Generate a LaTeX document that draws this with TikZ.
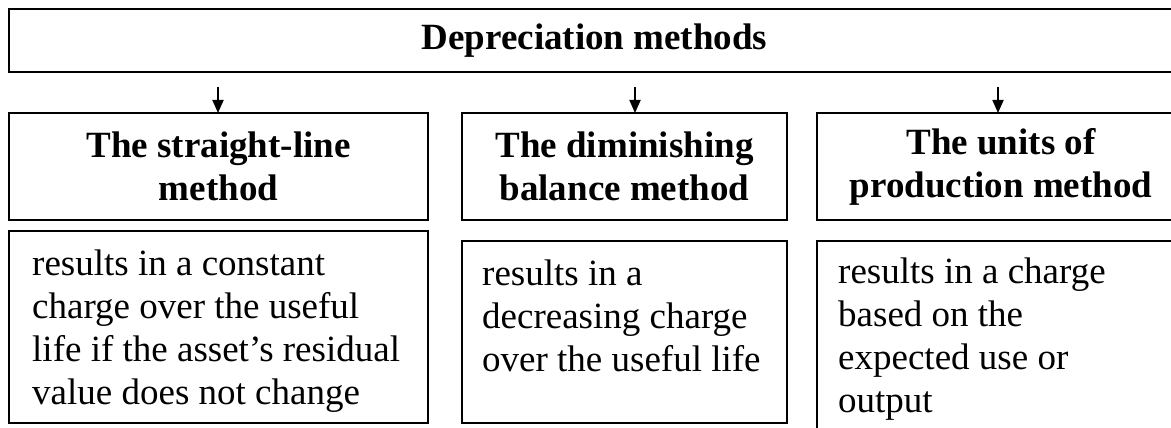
\documentclass[tikz,border=0pt]{standalone}
\usepackage{fontspec}
\setmainfont{Liberation Serif}
\usetikzlibrary{arrows.meta}
\begin{document}
\begin{tikzpicture}[x=1pt,y=-1pt,
  frame/.style={draw, line width=1.8pt, rectangle, inner sep=0pt, outer sep=0pt, anchor=north west},
  title/.style={font=\fontsize{37}{43}\selectfont\bfseries, align=center},
  body/.style={font=\fontsize{37}{43}\selectfont, align=left, inner sep=0pt, anchor=north west},
  link/.style={line width=1.8pt, -{Triangle[length=13pt,width=11pt]}}]
\useasboundingbox (0,0) rectangle (1171,428);
\clip (0,0) rectangle (1171,428);

% heading
\node[frame, title, minimum width=1171pt, minimum height=63pt] (top) at (9,9) {Depreciation methods};

% method boxes
\node[frame, title, minimum width=419pt, minimum height=107pt] (h1) at (9,113) {The straight-line\\method};
\node[frame, title, minimum width=325pt, minimum height=107pt] (h2) at (462,113) {The diminishing\\balance method};
\node[frame, title, minimum width=368pt, minimum height=107pt] (h3) at (817,113) {The units of\\production method};

% description frames
\node[frame, minimum width=419pt, minimum height=192pt] (d1) at (9,231) {};
\node[frame, minimum width=325pt, minimum height=182pt] (d2) at (462,241) {};
\node[frame, minimum width=368pt, minimum height=210pt] (d3) at (817,241) {};

% description texts
\node[body] (t1) at (32,244.9) {\strut results in a constant\\charge over the useful\\life if the asset’s residual\\value does not change};
\node[body] (t2) at (482,254.9) {\strut results in a\\decreasing charge\\over the useful life};
\node[body] (t3) at (838,252.9) {\strut results in a charge\\based on the\\expected use or\\output};

% arrows from the heading
\coordinate (a1) at (218,87);
\coordinate (a2) at (635,87);
\coordinate (a3) at (998,87);
\draw[link] (a1) -- (a1 |- h1.north);
\draw[link] (a2) -- (a2 |- h2.north);
\draw[link] (a3) -- (a3 |- h3.north);
\end{tikzpicture}
\end{document}
